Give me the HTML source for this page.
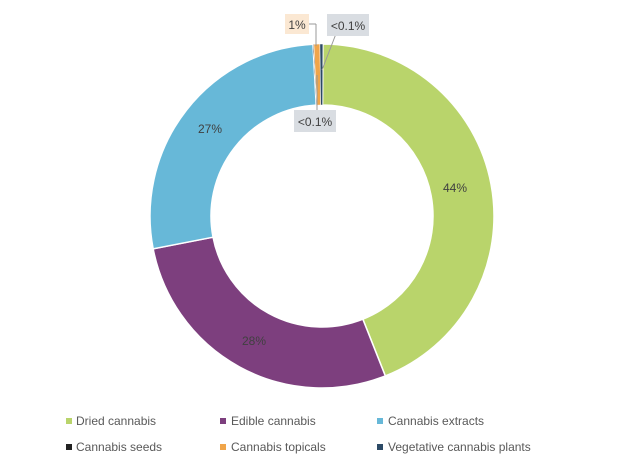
<!DOCTYPE html>
<html><head><meta charset="utf-8"><style>
body{margin:0;background:#fff;}
svg{display:block;font-family:"Liberation Sans",sans-serif;}
</style></head><body>
<svg id="s" width="626" height="469" viewBox="0 0 626 469">
<g id="slices"></g>
<g font-size="12" fill="#404040">
<text x="455" y="192" text-anchor="middle">44%</text>
<text x="254" y="345" text-anchor="middle">28%</text>
<text x="210" y="133" text-anchor="middle">27%</text>
</g>
<line x1="309" y1="24" x2="316" y2="24" stroke="#999" stroke-width="1"/>
<line x1="316" y1="24" x2="316" y2="46" stroke="#999" stroke-width="1"/>
<line x1="339" y1="26" x2="322" y2="70" stroke="#999" stroke-width="1"/>
<line x1="317" y1="75" x2="317" y2="112" stroke="#999" stroke-width="1"/>
<rect x="285" y="14" width="24" height="20" fill="#fbe8d3"/>
<text x="297" y="29" font-size="12" fill="#404040" text-anchor="middle">1%</text>
<rect x="327" y="14" width="42" height="22" fill="#d9dde2"/>
<text x="348" y="30" font-size="12" fill="#404040" text-anchor="middle">&lt;0.1%</text>
<rect x="294" y="110" width="42" height="22" fill="#d9dde2"/>
<text x="315" y="126" font-size="12" fill="#404040" text-anchor="middle">&lt;0.1%</text>
<g font-size="12" fill="#595959">
<rect x="66" y="418" width="6" height="6" fill="#b9d46b"/><text x="76" y="425">Dried cannabis</text>
<rect x="220" y="418" width="6" height="6" fill="#7d3f7e"/><text x="231" y="425">Edible cannabis</text>
<rect x="377" y="418" width="6" height="6" fill="#67b8d8"/><text x="388" y="425">Cannabis extracts</text>
<rect x="66" y="444" width="6" height="6" fill="#222"/><text x="76" y="451">Cannabis seeds</text>
<rect x="220" y="444" width="6" height="6" fill="#f0a54a"/><text x="231" y="451">Cannabis topicals</text>
<rect x="377" y="444" width="6" height="6" fill="#2c4a66"/><text x="388" y="451">Vegetative cannabis plants</text>
</g>
</svg>
<script>
var cx=322,cy=216,R=172,r=111;
function pt(a,rad){var t=(a-90)*Math.PI/180;return [cx+rad*Math.cos(t),cy+rad*Math.sin(t)];}
function arc(a0,a1,c,sw){var l=(a1-a0)>180?1:0;var p0=pt(a0,R),p1=pt(a1,R),q1=pt(a1,r),q0=pt(a0,r);
return '<path d="M'+p0+' A'+R+' '+R+' 0 '+l+' 1 '+p1+' L'+q1+' A'+r+' '+r+' 0 '+l+' 0 '+q0+' Z" fill="'+c+'" stroke="#fff" stroke-width="'+sw+'"/>';}
var s=[[0.3,158.4,'#b9d46b',1.5],[158.4,259,'#7d3f7e',1.5],[259,357.0,'#67b8d8',1.5],[357.0,357.3,'#222',0.5],[357.3,359.3,'#f0a54a',0.5],[359.3,360.3,'#2c4a66',0.5]];
var h='';s.forEach(function(x){h+=arc(x[0],x[1],x[2],x[3]);});
document.getElementById('slices').innerHTML=h;
</script>
</body></html>
